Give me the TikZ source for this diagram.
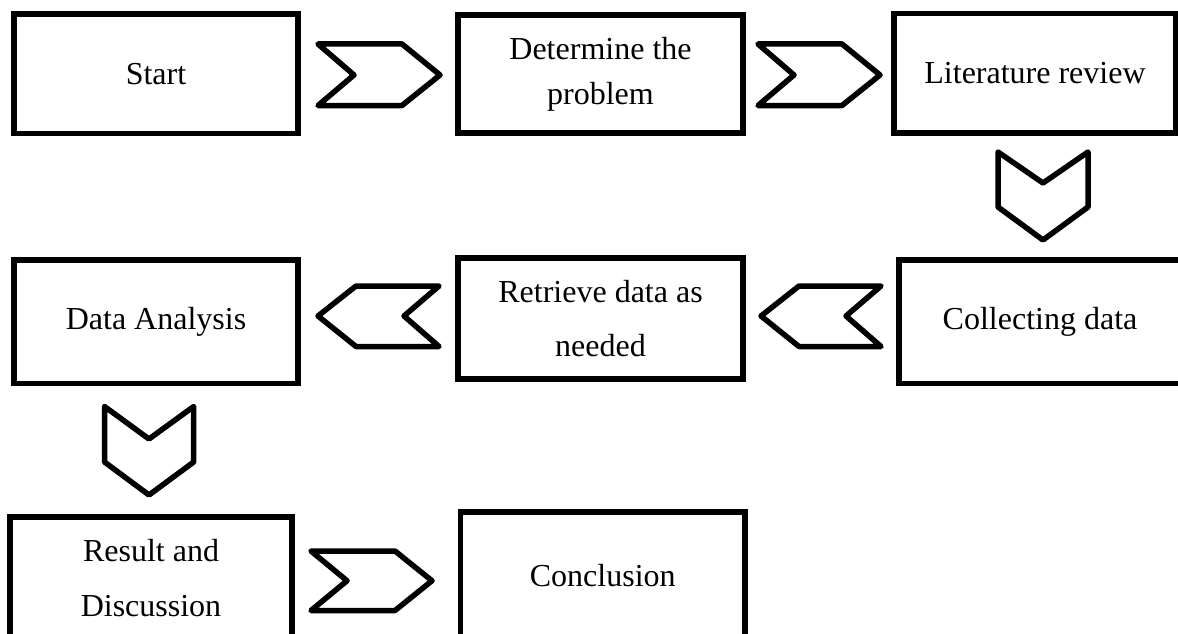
\documentclass[tikz,border=0pt]{standalone}
\usepackage{fontspec}
\setmainfont{Liberation Serif}
\begin{document}
\begin{tikzpicture}[x=1pt,y=-1pt,
  box/.style={draw, line width=5.5pt, inner sep=0pt, align=center, font=\fontsize{32}{45}\selectfont},
  chev/.style={draw, line width=5.5pt, line join=round}]
\useasboundingbox (0,0) rectangle (1178,634);
\clip (0,0) rectangle (1178,634);
% boxes
\node[box, minimum width=284pt, minimum height=119.5pt] (start) at (156,73.75) {Start};
\node[box, minimum width=285pt, minimum height=118pt, font=\fontsize{32}{45}\selectfont] (determine) at (600.5,74) {Determine the\\problem};
\node[box, minimum width=282pt, minimum height=119.5pt] (lit) at (1035,73.25) {Literature review};
\node[box, minimum width=282pt, minimum height=123.5pt] (collect) at (1040,321.75) {Collecting data};
\node[box, minimum width=285pt, minimum height=121pt, font=\fontsize{32}{54}\selectfont] (retrieve) at (600.5,318.5) {Retrieve data as\\needed};
\node[box, minimum width=284pt, minimum height=123.5pt] (analysis) at (156,321.75) {Data Analysis};
\node[box, minimum width=282pt, minimum height=122pt, font=\fontsize{32}{55}\selectfont] (result) at (151,578) {Result and\\Discussion};
\node[box, minimum width=284.5pt, minimum height=128pt] (concl) at (602.75,576) {Conclusion};
% chevron connectors
\draw[chev] (318,44) -- (354,75) -- (318,105.5) -- (402,105.5) -- (440,75) -- (402,44) -- cycle;
\draw[chev] (758,44) -- (794,75) -- (758,105.5) -- (842,105.5) -- (880,75) -- (842,44) -- cycle;
\draw[chev] (998,152) -- (1043,183) -- (1088,152) -- (1088,207) -- (1043,240) -- (998,207) -- cycle;
\draw[chev] (761,316) -- (799,286) -- (881,286) -- (846,316) -- (881,346.5) -- (799,346.5) -- cycle;
\draw[chev] (318,316) -- (356,286) -- (439,286) -- (404,316) -- (439,346.5) -- (356,346.5) -- cycle;
\draw[chev] (104.5,406.5) -- (149,439) -- (193.7,406.5) -- (193.7,462) -- (149,495) -- (104.5,462) -- cycle;
\draw[chev] (311,551) -- (347,580.75) -- (311,610.5) -- (395,610.5) -- (432,580.75) -- (395,551) -- cycle;
\end{tikzpicture}
\end{document}
